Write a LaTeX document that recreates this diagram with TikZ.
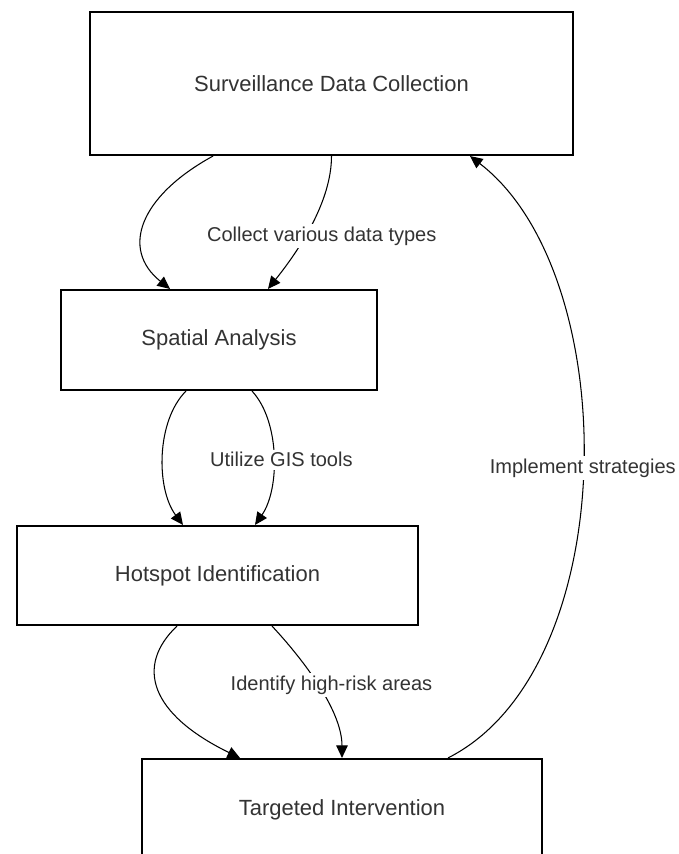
\documentclass[tikz,border=0pt]{standalone}
\usepackage{fontspec}
\setmainfont{Liberation Sans}
\usepackage{xcolor}
\usepackage{tikz}
\usetikzlibrary{arrows.meta}

\definecolor{txtgray}{HTML}{333333}

\begin{document}
\begin{tikzpicture}[
	box/.style={draw=black, line width=1.2pt, fill=white, text=txtgray, font=\fontsize{12.5}{15}\selectfont},
	lbl/.style={fill=white, text=txtgray, inner sep=1.5pt, font=\fontsize{11.4}{13}\selectfont},
	link/.style={line width=0.6pt, -{Triangle[length=0.25cm,width=0.23cm]}}
	]
			\useasboundingbox (0,0) rectangle (13.58,17.08);
			% Boxes
			\node[box, minimum width=9.66cm, minimum height=2.86cm] (sdc) at (6.63,15.41) {Surveillance Data Collection};
			\node[box, minimum width=6.32cm, minimum height=2cm] (sa) at (4.38,10.28) {Spatial Analysis};
			\node[box, minimum width=8.02cm, minimum height=1.98cm] (hi) at (4.35,5.57) {Hotspot Identification};
			\node[box, minimum width=8cm, minimum height=2.04cm] (ti) at (6.84,0.88) {Targeted Intervention};
			% Links
			\draw[link] ([xshift=-2.37cm]sdc.south) .. controls +(-1.46,-0.8) and +(-1,0.8) .. ([xshift=-0.98cm]sa.north);
			\draw[link] (sdc.south) .. controls +(0,-0.9) and +(0.64,0.8) .. ([xshift=0.98cm]sa.north) node[lbl, pos=0.5, xshift=0.2cm, yshift=-0.24cm] {Collect various data types};
			\draw[link] ([xshift=-0.66cm]sa.south) .. controls +(-0.6,-0.6) and +(-0.54,0.72) .. ([xshift=-0.69cm]hi.north);
			\draw[link] ([xshift=0.66cm]sa.south) .. controls +(0.56,-0.6) and +(0.5,0.72) .. ([xshift=0.75cm]hi.north) node[lbl, pos=0.5, xshift=0.16cm, yshift=-0.08cm] {Utilize GIS tools};
			\draw[link] ([xshift=-0.81cm]hi.south) .. controls +(-0.84,-0.8) and +(-1.8,0.88) .. ([xshift=-2.04cm]ti.north);
			\draw[link] ([xshift=1.09cm]hi.south) .. controls +(0.56,-0.6) and +(0,0.98) .. (ti.north) node[lbl, pos=0.5, xshift=0.28cm] {Identify high-risk areas};
			% Feedback loop
			\draw[link] ([xshift=2.12cm]ti.north) .. controls +(3.52,1.78) and +(3.08,-2.36) .. ([xshift=2.77cm]sdc.south) node[lbl, pos=0.5] {Implement strategies};
		\end{tikzpicture}
\end{document}
